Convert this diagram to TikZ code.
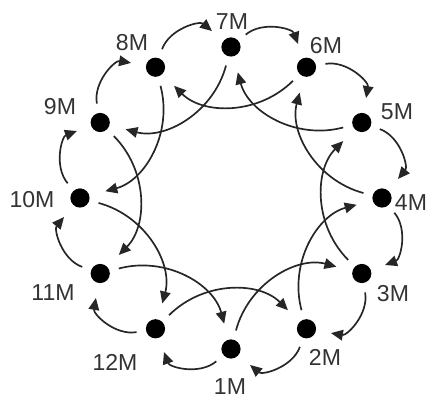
\documentclass[tikz,border=0pt]{standalone}
\usepackage{fontspec}
\setmainfont{Liberation Sans}
\usetikzlibrary{arrows.meta}

\begin{document}
\begin{tikzpicture}[x=0.025cm, y=0.025cm,
    dot/.style={circle, fill=black, inner sep=0pt, minimum size=0.48cm, outer sep=0.24cm},
    lbl/.style={font=\fontsize{16.4}{19}\selectfont, text=black!80, inner sep=0pt},
    flow/.style={line width=1.2pt, black!85, -{Triangle[length=8.5pt, width=7.5pt]}},
    ring/.style={flow, bend left=55, shorten >=4pt},
    chord/.style={flow, bend left=45, shorten >=5pt}]
  \useasboundingbox (-231,-203) rectangle (198,198);
  % months on the circle
  \node[dot] (m1) at (-90:151) {};
  \node[dot] (m2) at (-60:151) {};
  \node[dot] (m3) at (-30:151) {};
  \node[dot] (m4) at (0:151) {};
  \node[dot] (m5) at (30:151) {};
  \node[dot] (m6) at (60:151) {};
  \node[dot] (m7) at (90:151) {};
  \node[dot] (m8) at (120:151) {};
  \node[dot] (m9) at (150:151) {};
  \node[dot] (m10) at (180:151) {};
  \node[dot] (m11) at (210:151) {};
  \node[dot] (m12) at (240:151) {};
  % labels
  \node[lbl] (l1) at (-1,-189) {1M};
  \node[lbl] (l2) at (94,-159) {2M};
  \node[lbl] (l3) at (162,-96) {3M};
  \node[lbl] (l4) at (180,-5) {4M};
  \node[lbl] (l5) at (166,86) {5M};
  \node[lbl] (l6) at (95,152) {6M};
  \node[lbl] (l7) at (1,176) {7M};
  \node[lbl] (l8) at (-99,155) {8M};
  \node[lbl] (l9) at (-171,91) {9M};
  \node[lbl] (l10) at (-199,-2) {10M};
  \node[lbl] (l11) at (-178,-95) {11M};
  \node[lbl] (l12) at (-116,-164) {12M};
  % outer ring, one step back
  \draw[ring] (m1) to (m12);
  \draw[ring] (m2) to (m1);
  \draw[ring] (m3) to (m2);
  \draw[ring] (m4) to (m3);
  \draw[ring] (m5) to (m4);
  \draw[ring] (m6) to (m5);
  \draw[ring] (m7) to (m6);
  \draw[ring] (m8) to (m7);
  \draw[ring] (m9) to (m8);
  \draw[ring] (m10) to (m9);
  \draw[ring] (m11) to (m10);
  \draw[ring] (m12) to (m11);
  % inner chords, two steps on
  \draw[chord] (m1) to (m3);
  \draw[chord] (m2) to (m4);
  \draw[chord] (m3) to (m5);
  \draw[chord] (m4) to (m6);
  \draw[chord] (m5) to (m7);
  \draw[chord] (m6) to (m8);
  \draw[chord] (m7) to (m9);
  \draw[chord] (m8) to (m10);
  \draw[chord] (m9) to (m11);
  \draw[chord] (m10) to (m12);
  \draw[chord] (m11) to (m1);
  \draw[chord] (m12) to (m2);
\end{tikzpicture}
\end{document}
